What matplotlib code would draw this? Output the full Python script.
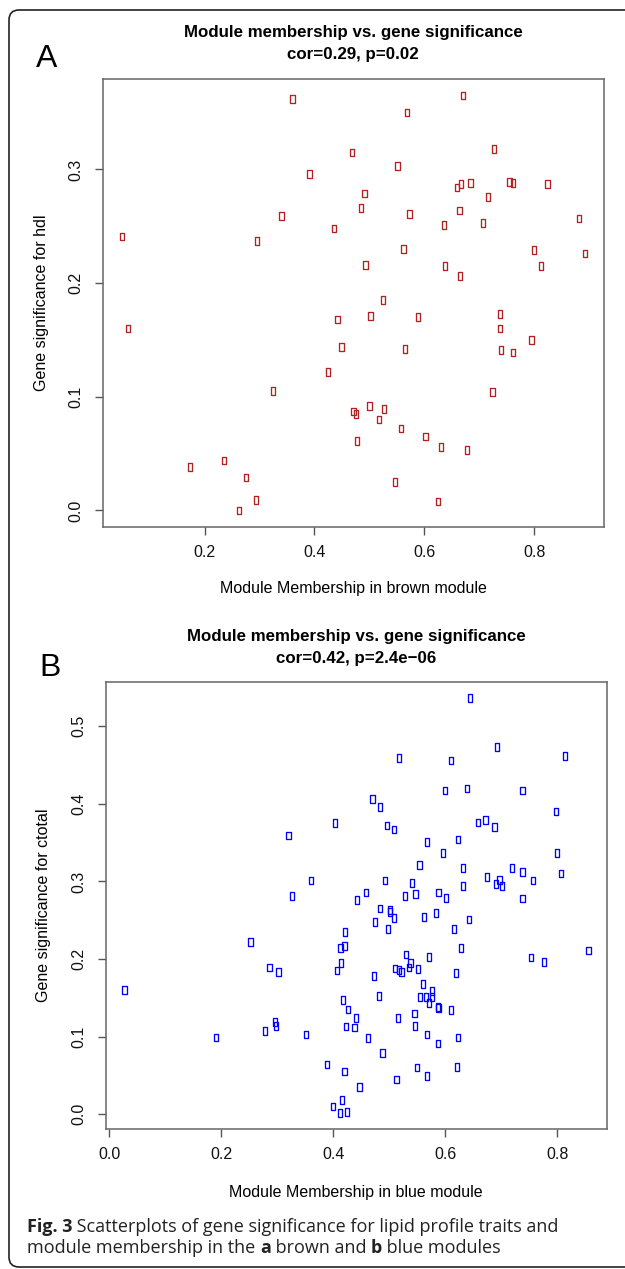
import matplotlib
matplotlib.use("Agg")
import matplotlib.pyplot as plt
from matplotlib.patches import FancyBboxPatch
from matplotlib.text import Annotation

# Panel A: brown module (membership vs. significance for hdl)
brown_mm = [0.360, 0.469, 0.391, 0.484, 0.340, 0.436, 0.049, 0.295, 0.671, 0.569,
            0.727, 0.551, 0.660, 0.667, 0.684, 0.755, 0.762, 0.824, 0.491, 0.716,
            0.573, 0.664, 0.635, 0.707, 0.882, 0.562, 0.800, 0.893, 0.493, 0.638,
            0.665, 0.813, 0.525, 0.502, 0.589, 0.738, 0.738, 0.795, 0.449, 0.565,
            0.740, 0.762, 0.724, 0.471, 0.476, 0.500, 0.527, 0.518, 0.558, 0.602,
            0.631, 0.678, 0.478, 0.547, 0.625, 0.060, 0.442, 0.425, 0.325, 0.173,
            0.236, 0.275, 0.293, 0.262]
brown_gs = [0.362, 0.315, 0.296, 0.266, 0.259, 0.248, 0.241, 0.237, 0.365, 0.350,
            0.318, 0.303, 0.284, 0.287, 0.288, 0.289, 0.288, 0.287, 0.279, 0.276,
            0.261, 0.264, 0.251, 0.253, 0.257, 0.230, 0.229, 0.226, 0.216, 0.215,
            0.206, 0.215, 0.185, 0.171, 0.170, 0.173, 0.160, 0.150, 0.144, 0.142,
            0.141, 0.139, 0.104, 0.087, 0.085, 0.092, 0.089, 0.080, 0.072, 0.065,
            0.056, 0.053, 0.061, 0.025, 0.008, 0.160, 0.168, 0.122, 0.105, 0.038,
            0.044, 0.029, 0.009, 0.000]

# Panel B: blue module (membership vs. significance for ctotal)
blue_mm = [0.403, 0.320, 0.360, 0.326, 0.442,
           0.644, 0.693, 0.518, 0.610, 0.814, 0.600, 0.639, 0.738, 0.470, 0.483,
           0.798, 0.496, 0.509, 0.658, 0.672, 0.688, 0.567, 0.623, 0.596, 0.799,
           0.554, 0.632, 0.720, 0.738, 0.807, 0.757, 0.674, 0.493, 0.541, 0.632,
           0.690, 0.697, 0.701, 0.458, 0.528, 0.547, 0.588, 0.601, 0.738,
           0.421, 0.252, 0.420, 0.413, 0.414, 0.286, 0.302, 0.406, 0.027, 0.418,
           0.426, 0.441, 0.423, 0.438, 0.296, 0.297, 0.278, 0.190, 0.352, 0.389,
           0.420, 0.447, 0.416, 0.400, 0.412, 0.424,
           0.483, 0.501, 0.502, 0.509, 0.562, 0.584, 0.643, 0.475, 0.498, 0.615,
           0.628, 0.530, 0.571, 0.538, 0.536, 0.511, 0.517, 0.522, 0.552, 0.753,
           0.777, 0.856, 0.619, 0.473, 0.561, 0.577, 0.555, 0.566, 0.576, 0.571,
           0.587, 0.588, 0.611, 0.482, 0.516, 0.545, 0.546, 0.462, 0.568, 0.587,
           0.623, 0.488, 0.549, 0.567, 0.621, 0.513]
blue_gs = [0.375, 0.359, 0.301, 0.281, 0.276,
           0.536, 0.473, 0.459, 0.456, 0.462, 0.417, 0.420, 0.417, 0.406, 0.396,
           0.390, 0.372, 0.367, 0.376, 0.379, 0.370, 0.351, 0.354, 0.337, 0.337,
           0.321, 0.317, 0.317, 0.312, 0.310, 0.301, 0.306, 0.301, 0.298, 0.294,
           0.297, 0.302, 0.294, 0.286, 0.281, 0.284, 0.286, 0.279, 0.278,
           0.235, 0.222, 0.217, 0.214, 0.195, 0.189, 0.183, 0.185, 0.160, 0.147,
           0.135, 0.124, 0.113, 0.112, 0.119, 0.114, 0.107, 0.099, 0.103, 0.064,
           0.055, 0.035, 0.018, 0.010, 0.002, 0.003,
           0.265, 0.263, 0.261, 0.253, 0.254, 0.259, 0.251, 0.248, 0.239, 0.239,
           0.214, 0.206, 0.203, 0.195, 0.189, 0.188, 0.186, 0.183, 0.187, 0.202,
           0.196, 0.211, 0.182, 0.178, 0.168, 0.159, 0.151, 0.151, 0.151, 0.143,
           0.138, 0.137, 0.134, 0.152, 0.124, 0.130, 0.114, 0.098, 0.103, 0.091,
           0.099, 0.079, 0.060, 0.049, 0.061, 0.045]

W, H = 625, 1269
fig = plt.figure(figsize=(W / 100, H / 100), dpi=100)
plt.rcParams['font.family'] = ['Liberation Sans', 'DejaVu Sans']

# rounded frame around the whole figure (runs off the right edge)
frame = FancyBboxPatch((9 / W, 1 - 1267 / H), 700 / W, 1257 / H,
                       boxstyle="round,pad=0,rounding_size=0.016",
                       transform=fig.transFigure, fill=False,
                       ec='#222222', lw=1.2, mutation_aspect=W / H)
fig.patches.append(frame)

# tall hollow rectangle marker
rect = [(-0.55, -1), (0.55, -1), (0.55, 1), (-0.55, 1), (-0.55, -1)]


def px_axes(left, top, right, bottom):
    return fig.add_axes([left / W, 1 - bottom / H, (right - left) / W, (bottom - top) / H])


def style(ax, xticks, yticks):
    for s in ax.spines.values():
        s.set_color('#666666')
        s.set_linewidth(1.1)
    ax.set_xticks(xticks)
    ax.set_yticks(yticks)
    ax.set_xticklabels(['%.1f' % t for t in xticks])
    ax.set_yticklabels(['%.1f' % t for t in yticks], rotation=90, va='center')
    ax.tick_params(axis='both', direction='out', length=6, width=1.0,
                   color='#555555', labelsize=11.5, labelcolor='#111111')
    ax.tick_params(axis='x', pad=7)
    ax.tick_params(axis='y', pad=8)


# Panel A
axA = px_axes(103, 79, 604, 527)
axA.scatter(brown_mm, brown_gs, marker=rect, s=30, facecolors='none',
            edgecolors='#B22222', linewidths=0.95)
axA.set_xlim(0.015, 0.927)
axA.set_ylim(-0.0146, 0.3796)
style(axA, [0.2, 0.4, 0.6, 0.8], [0.0, 0.1, 0.2, 0.3])

# Panel B
axB = px_axes(106, 682, 607, 1129)
axB.scatter(blue_mm, blue_gs, marker=rect, s=30, facecolors='none',
            edgecolors='#0000FF', linewidths=0.95)
axB.set_xlim(-0.006, 0.889)
axB.set_ylim(-0.019, 0.557)
style(axB, [0.0, 0.2, 0.4, 0.6, 0.8], [0.0, 0.1, 0.2, 0.3, 0.4, 0.5])


def ftext(x, y, s, **kw):
    fig.text(x / W, 1 - y / H, s, ha='center', va='center', **kw)


# titles, axis labels, panel letters
ftext(353, 33, 'Module membership vs. gene significance', fontsize=12.2, fontweight='bold')
ftext(353, 54, 'cor=0.29, p=0.02', fontsize=12.2, fontweight='bold')
ftext(47, 59, 'A', fontsize=23)
ftext(42, 303, 'Gene significance for hdl', fontsize=11.5, rotation=90)
ftext(353, 588, 'Module Membership in brown module', fontsize=11.5)

ftext(356, 637, 'Module membership vs. gene significance', fontsize=12.2, fontweight='bold')
ftext(356, 658, 'cor=0.42, p=2.4e\u221206', fontsize=12.2, fontweight='bold')
ftext(50, 668, 'B', fontsize=23)
ftext(44, 905, 'Gene significance for ctotal', fontsize=11.5, rotation=90)
ftext(356, 1192, 'Module Membership in blue module', fontsize=11.5)

# caption, with bold fragments chained one after another
cap = dict(fontsize=13, family=['Open Sans', 'DejaVu Sans'], va='center',
           color='#222222')
lines = [
    (1227, [('Fig. 3', 'bold'),
            (' Scatterplots of gene significance for lipid profile traits and', 'normal')]),
    (1248, [('module membership in the ', 'normal'), ('a', 'bold'),
            (' brown and ', 'normal'), ('b', 'bold'), (' blue modules', 'normal')]),
]
for y, parts in lines:
    prev = fig.text(27 / W, 1 - y / H, parts[0][0], fontweight=parts[0][1], **cap)
    for s, w in parts[1:]:
        prev = fig.add_artist(Annotation(s, xy=(1, 0.5), xycoords=prev,
                                         fontweight=w, annotation_clip=False, **cap))

fig.savefig('out.png', dpi=100)
